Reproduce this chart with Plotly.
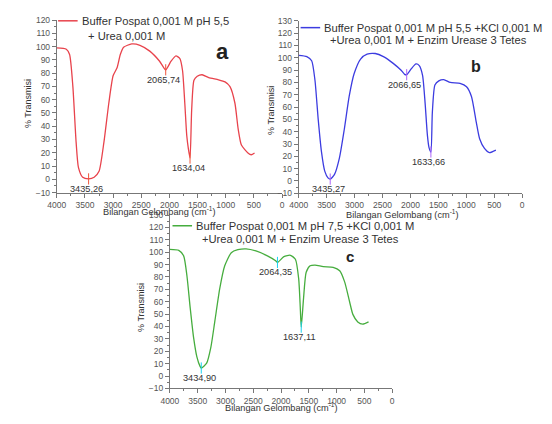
import plotly.graph_objects as go

# ---------------- data ----------------
wn_a = [4000, 3831, 3773, 3715, 3657, 3616, 3540, 3435, 3337, 3250, 3163, 3076, 3000, 2930, 2872,
        2814, 2669, 2523, 2349, 2174, 2066, 1971, 1884, 1814, 1767, 1727, 1692, 1663, 1634, 1605,
        1564, 1506, 1419, 1302, 1128, 1012, 924, 837, 779, 721, 605, 547, 488]
T_a = [99, 98, 94, 70, 28, 9, 1.5, 0.3, 1.5, 6, 28, 57.5, 78, 84, 94,
       99.5, 102, 101, 96.6, 89, 82.5, 89, 93, 91, 82, 57.5, 33, 23, 16, 52,
       74.6, 77.6, 78.8, 76.6, 75, 73.4, 69.8, 57.5, 38, 25.8, 19.8, 18.5, 19.8]

wn_b = [4000, 3854, 3767, 3708, 3650, 3592, 3533, 3475, 3435, 3358, 3271, 3183, 3096, 3008, 2892,
        2775, 2629, 2483, 2308, 2162, 2104, 2067, 1987, 1900, 1842, 1783, 1737, 1696, 1667, 1634,
        1608, 1562, 1492, 1404, 1287, 1112, 996, 908, 821, 762, 675, 587, 471]
T_b = [102, 101, 97.6, 81.8, 50, 23.8, 8, 2.5, 1.5, 5.3, 18.5, 42, 68.6, 87, 99,
       103, 103.5, 101, 95.5, 89.7, 86.6, 86.3, 91, 95, 93.7, 85.8, 63, 37, 27, 23.5,
       55.4, 77.9, 81.3, 82.3, 80, 79.2, 76.5, 68.6, 47.5, 34.3, 26.4, 23, 25]

wn_c = [4000, 3840, 3752, 3693, 3634, 3574, 3515, 3456, 3435, 3338, 3261, 3190, 3102, 3013, 2895,
        2777, 2629, 2452, 2245, 2097, 2064, 1949, 1831, 1742, 1683, 1654, 1637, 1595, 1548, 1477,
        1388, 1240, 1063, 945, 856, 767, 708, 620, 532, 426]
T_c = [102.2, 101.4, 97, 81, 55, 31.4, 15.7, 7.8, 6.5, 10.4, 23.6, 44.5, 70.7, 89, 99.6,
       102, 102.7, 101, 97, 93, 91.7, 96.4, 97.5, 94.3, 78.6, 55, 39.5, 62.9, 83.8, 89,
       89.6, 88.3, 87.8, 85, 76, 60, 49.8, 43.7, 41.9, 43.7]

peak_wn_a = [3435.26, 2065.74, 1634.04]
peak_T_a = [0.3, 82.5, 16]
peak_lbl_a = ["3435,26", "2065,74", "1634,04"]

peak_wn_b = [3435.27, 2066.65, 1633.66]
peak_T_b = [1.5, 86.3, 23.5]
peak_lbl_b = ["3435,27", "2066,65", "1633,66"]

peak_wn_c = [3434.90, 2064.35, 1637.11]
peak_T_c = [6.5, 91.7, 39.5]
peak_lbl_c = ["3434,90", "2064,35", "1637,11"]

name_a = ["Buffer Pospat 0,001 M pH 5,5", "+ Urea 0,001 M"]
name_b = ["Buffer Pospat 0,001 M pH 5,5 +KCl 0,001 M", "+Urea 0,001 M + Enzim Urease 3 Tetes"]
name_c = ["Buffer Pospat 0,001 M pH 7,5 +KCl 0,001 M", "+Urea 0,001 M + Enzim Urease 3 Tetes"]

x_ticks = [4000, 3500, 3000, 2500, 2000, 1500, 1000, 500, 0]
x_title = "Bilangan Gelombang (cm<sup>-1</sup>)"
y_title = "% Transmisi"

# ---------------- layout helpers ----------------
# page body has an 8px margin, so the figure is sized to the visible area
OFF = 8
W, H = 552 - OFF, 424 - OFF
FONT = "Liberation Sans, Arial, sans-serif"


def px(x):
    return (x - OFF) / W


def py(y):
    return 1 - (y - OFF) / H


fig = go.Figure()

panels = [
    dict(wn=wn_a, T=T_a, pw=peak_wn_a, pT=peak_T_a, pl=peak_lbl_a, name=name_a, color="#e8434c",
         xd=(48.7, 279.0), yd=(192.0, 14.7), yr=(-10, 120.4), ax="", letter="a",
         letter_pos=(218, 47, 22), leg_line=(50, 70, 16), leg_txt2=(120, 32),
         xt=(153, 211), yt=(18.5, 101)),
    dict(wn=wn_b, T=T_b, pw=peak_wn_b, pT=peak_T_b, pl=peak_lbl_b, name=name_b, color="#3c3ce0",
         xd=(296.0, 524.6), yd=(192.7, 15.7), yr=(-10, 130.3), ax="2", letter="b",
         letter_pos=(477, 63, 16), leg_line=(298, 318, 23), leg_txt2=(428.5, 36),
         xt=(402, 214), yt=(267, 108)),
    dict(wn=wn_c, T=T_c, pw=peak_wn_c, pT=peak_T_c, pl=peak_lbl_c, name=name_c, color="#46ad3e",
         xd=(164.3, 391.7), yd=(392.7, 214.6), yr=(-10, 130.3), ax="3", letter="c",
         letter_pos=(348, 257, 15), leg_line=(167, 187, 226), leg_txt2=(298, 240),
         xt=(278, 412), yt=(135, 310)),
]

annotations = []
shapes = []

for p in panels:
    xa = "x" + p["ax"]
    ya = "y" + p["ax"]
    fig.add_trace(go.Scatter(x=p["wn"], y=p["T"], mode="lines", xaxis=xa, yaxis=ya,
                             line=dict(color=p["color"], width=1.3, shape="spline", smoothing=0.6),
                             showlegend=False, hoverinfo="skip"))
    fig.add_trace(go.Scatter(x=p["pw"], y=p["pT"], mode="markers", xaxis=xa, yaxis=ya,
                             marker=dict(symbol="line-ns-open", size=8,
                                         line=dict(color="#888", width=1)),
                             showlegend=False, hoverinfo="skip"))
    for w, t, lbl in zip(p["pw"], p["pT"], p["pl"]):
        annotations.append(dict(x=w, y=t, xref=xa, yref=ya, text=lbl, showarrow=False,
                                xanchor="center", yanchor="top", yshift=-3, xshift=-2,
                                font=dict(family=FONT, size=9.2, color="#333")))

    axis_common = dict(showline=True, linecolor="#777", linewidth=1, ticks="outside", ticklen=4,
                       tickcolor="#777", showgrid=False, zeroline=False,
                       tickfont=dict(family=FONT, size=8.5, color="#555"))
    fig.update_layout(**{
        "xaxis" + p["ax"]: dict(axis_common, domain=[px(p["xd"][0]), px(p["xd"][1])],
                                range=[4000, 0], tickvals=x_ticks, anchor=ya,
                                minor=dict(ticks="outside", ticklen=2, tickcolor="#777", dtick=250, tick0=0)),
        "yaxis" + p["ax"]: dict(axis_common, domain=[py(p["yd"][0]), py(p["yd"][1])],
                                range=list(p["yr"]), dtick=10, tick0=0, anchor=xa,
                                minor=dict(ticks="outside", ticklen=2, tickcolor="#777", dtick=5, tick0=0)),
    })

    # legend sample & text
    x0, x1, yl = p["leg_line"]
    shapes.append(dict(type="line", xref="paper", yref="paper", x0=px(x0), x1=px(x1),
                       y0=py(yl), y1=py(yl), line=dict(color=p["color"], width=1.5)))
    annotations.append(dict(x=px(x1 + 2), y=py(yl), xref="paper", yref="paper", text=p["name"][0],
                            showarrow=False, xanchor="left", yanchor="middle",
                            font=dict(family=FONT, size=11.2, color="#333")))
    annotations.append(dict(x=px(p["leg_txt2"][0]), y=py(p["leg_txt2"][1]), xref="paper", yref="paper",
                            text=p["name"][1], showarrow=False, xanchor="center", yanchor="middle",
                            font=dict(family=FONT, size=11.2, color="#333")))
    # panel letter
    lx, ly, ls = p["letter_pos"]
    annotations.append(dict(x=px(lx), y=py(ly), xref="paper", yref="paper", text="<b>" + p["letter"] + "</b>",
                            showarrow=False, xanchor="center", yanchor="middle",
                            font=dict(family=FONT, size=ls, color="#222")))
    # axis titles
    annotations.append(dict(x=px(p["xt"][0]), y=py(p["xt"][1]), xref="paper", yref="paper",
                            text=x_title, showarrow=False, xanchor="center", yanchor="middle",
                            font=dict(family=FONT, size=9.2, color="#333")))
    annotations.append(dict(x=px(p["yt"][0]), y=py(p["yt"][1]), xref="paper", yref="paper",
                            text=y_title, showarrow=False, xanchor="center", yanchor="middle",
                            textangle=-90, font=dict(family=FONT, size=9, color="#333")))

fig.update_layout(width=W, height=H, margin=dict(l=0, r=0, t=0, b=0),
                  paper_bgcolor="white", plot_bgcolor="white",
                  annotations=annotations, shapes=shapes, showlegend=False)

fig.write_html("out.html")
